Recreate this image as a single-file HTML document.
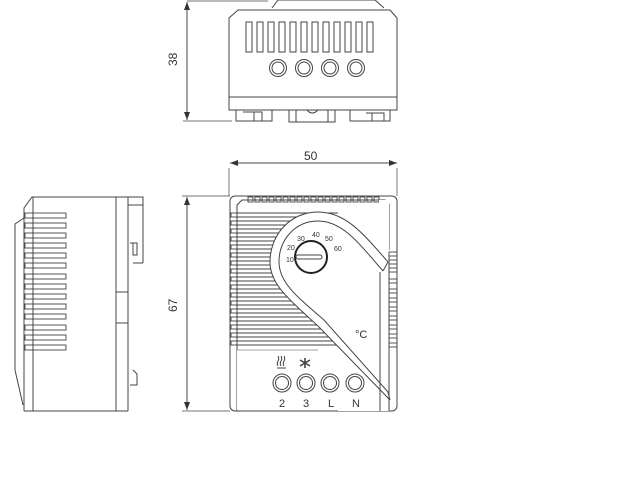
<!DOCTYPE html>
<html><head><style>
html,body{margin:0;padding:0;background:#fff;}
svg{display:block;}
text{font-family:"Liberation Sans",sans-serif;fill:#333;}
</style></head><body>
<svg width="640" height="480" viewBox="0 0 640 480" xmlns="http://www.w3.org/2000/svg">
<defs>
<marker id="a" markerWidth="8" markerHeight="6" refX="8" refY="3" orient="auto" markerUnits="userSpaceOnUse"><path d="M0,0 L8,3 L0,6 Z" fill="#333"/></marker>
</defs>
<g stroke="#444" stroke-width="1" fill="none">
<!-- TOP VIEW dimension -->
<line x1="187" y1="1" x2="268" y2="1" stroke-width="0.7"/>
<line x1="183" y1="121" x2="232" y2="121" stroke-width="0.7"/>
<line x1="187" y1="60" x2="187" y2="2" marker-end="url(#a)"/>
<line x1="187" y1="60" x2="187" y2="120" marker-end="url(#a)"/>
<!-- top body -->
<path d="M272,8 L278,0 L375,0 L384,8"/>
<path d="M229,110 L229,18 L238,10 L390,10 L397,18 L397,110 Z"/>
<line x1="229" y1="97" x2="397" y2="97"/>
<g>
<rect x="246" y="22" width="6" height="30"/><rect x="257" y="22" width="6" height="30"/><rect x="268" y="22" width="6" height="30"/><rect x="279" y="22" width="6" height="30"/><rect x="290" y="22" width="6" height="30"/><rect x="301" y="22" width="6" height="30"/><rect x="312" y="22" width="6" height="30"/><rect x="323" y="22" width="6" height="30"/><rect x="334" y="22" width="6" height="30"/><rect x="345" y="22" width="6" height="30"/><rect x="356" y="22" width="6" height="30"/><rect x="367" y="22" width="6" height="30"/>
</g>
<g>
<circle cx="278" cy="68" r="8.5"/><circle cx="278" cy="68" r="6"/>
<circle cx="304" cy="68" r="8.5"/><circle cx="304" cy="68" r="6"/>
<circle cx="330" cy="68" r="8.5"/><circle cx="330" cy="68" r="6"/>
<circle cx="356" cy="68" r="8.5"/><circle cx="356" cy="68" r="6"/>
</g>
<path d="M236,110 L236,121 L272,121 L272,110 M243,112 L262,112 L262,121 M254,112 L254,121"/>
<path d="M289,110 L289,122 L335,122 L335,110 M296,110 L296,122 M328,110 L328,122 M307,110 Q312,116 318,110"/>
<path d="M350,110 L350,121 L390,121 L390,110 M366,113 L384,113 L384,121 M372,113 L372,121"/>
<text x="0" y="0" font-size="12" stroke="none" transform="translate(177,66) rotate(-90)">38</text>

<!-- FRONT VIEW dimensions -->
<line x1="229" y1="168" x2="229" y2="196" stroke-width="0.7"/>
<line x1="397" y1="168" x2="397" y2="196" stroke-width="0.7"/>
<line x1="313" y1="163" x2="230" y2="163" marker-end="url(#a)"/>
<line x1="313" y1="163" x2="397" y2="163" marker-end="url(#a)"/>
<line x1="182" y1="196" x2="230" y2="196" stroke-width="0.7"/>
<line x1="182" y1="411" x2="230" y2="411" stroke-width="0.7"/>
<line x1="187" y1="300" x2="187" y2="197" marker-end="url(#a)"/>
<line x1="187" y1="300" x2="187" y2="410" marker-end="url(#a)"/>
<text x="304" y="160" font-size="12" stroke="none">50</text>
<text x="0" y="0" font-size="12" stroke="none" transform="translate(177,312) rotate(-90)">67</text>

<!-- front body -->
<rect x="230" y="196" width="167" height="215" rx="5"/>
<path d="M237,411 L237,205 L242,200 L385,200 L389,204 L389,250"/>
<line x1="380" y1="272" x2="380" y2="411"/>
<g stroke-width="0.9">
<rect x="248" y="197" width="5" height="5"/><rect x="255" y="197" width="5" height="5"/><rect x="262" y="197" width="5" height="5"/><rect x="269" y="197" width="5" height="5"/><rect x="276" y="197" width="5" height="5"/><rect x="283" y="197" width="5" height="5"/><rect x="290" y="197" width="5" height="5"/><rect x="297" y="197" width="5" height="5"/><rect x="304" y="197" width="5" height="5"/><rect x="311" y="197" width="5" height="5"/><rect x="318" y="197" width="5" height="5"/><rect x="325" y="197" width="5" height="5"/><rect x="332" y="197" width="5" height="5"/><rect x="339" y="197" width="5" height="5"/><rect x="346" y="197" width="5" height="5"/><rect x="353" y="197" width="5" height="5"/><rect x="360" y="197" width="5" height="5"/><rect x="367" y="197" width="5" height="5"/><rect x="374" y="197" width="5" height="5"/>
</g>
<g stroke-width="0.9">
<rect x="231" y="213" width="6" height="4"/><line x1="237" y1="213" x2="370" y2="213"/><line x1="237" y1="217" x2="370" y2="217"/>
<rect x="231" y="221" width="6" height="4"/><line x1="237" y1="221" x2="370" y2="221"/><line x1="237" y1="225" x2="370" y2="225"/>
<rect x="231" y="229" width="6" height="4"/><line x1="237" y1="229" x2="370" y2="229"/><line x1="237" y1="233" x2="370" y2="233"/>
<rect x="231" y="237" width="6" height="4"/><line x1="237" y1="237" x2="370" y2="237"/><line x1="237" y1="241" x2="370" y2="241"/>
<rect x="231" y="245" width="6" height="4"/><line x1="237" y1="245" x2="370" y2="245"/><line x1="237" y1="249" x2="370" y2="249"/>
<rect x="231" y="253" width="6" height="4"/><line x1="237" y1="253" x2="370" y2="253"/><line x1="237" y1="257" x2="370" y2="257"/>
<rect x="231" y="261" width="6" height="4"/><line x1="237" y1="261" x2="370" y2="261"/><line x1="237" y1="265" x2="370" y2="265"/>
<rect x="231" y="269" width="6" height="4"/><line x1="237" y1="269" x2="370" y2="269"/><line x1="237" y1="273" x2="370" y2="273"/>
<rect x="231" y="277" width="6" height="4"/><line x1="237" y1="277" x2="370" y2="277"/><line x1="237" y1="281" x2="370" y2="281"/>
<rect x="231" y="285" width="6" height="4"/><line x1="237" y1="285" x2="370" y2="285"/><line x1="237" y1="289" x2="370" y2="289"/>
<rect x="231" y="293" width="6" height="4"/><line x1="237" y1="293" x2="370" y2="293"/><line x1="237" y1="297" x2="370" y2="297"/>
<rect x="231" y="301" width="6" height="4"/><line x1="237" y1="301" x2="370" y2="301"/><line x1="237" y1="305" x2="370" y2="305"/>
<rect x="231" y="309" width="6" height="4"/><line x1="237" y1="309" x2="370" y2="309"/><line x1="237" y1="313" x2="370" y2="313"/>
<rect x="231" y="317" width="6" height="4"/><line x1="237" y1="317" x2="370" y2="317"/><line x1="237" y1="321" x2="370" y2="321"/>
<rect x="231" y="325" width="6" height="4"/><line x1="237" y1="325" x2="370" y2="325"/><line x1="237" y1="329" x2="370" y2="329"/>
<rect x="231" y="333" width="6" height="4"/><line x1="237" y1="333" x2="370" y2="333"/><line x1="237" y1="337" x2="370" y2="337"/>
<rect x="231" y="341" width="6" height="4"/><line x1="237" y1="341" x2="370" y2="341"/><line x1="237" y1="345" x2="370" y2="345"/>
</g>
<!-- white mask right of curve -->
<path d="M388,262 C362,232 345,212 318,212 C290,212 270,235 270,262 C270,285 290,300 318,326 L391,400 L379,400 L379,260 Z" fill="#fff" stroke="none"/>
<rect x="379" y="200" width="10" height="211" fill="#fff" stroke="none"/>
<rect x="338" y="205" width="42" height="206" fill="#fff" stroke="none"/>
<path d="M237,350 L379,350 L379,410 L237,410 Z" fill="#fff" stroke="none"/>
<line x1="237" y1="350" x2="318" y2="350" stroke-width="0.6"/>
<!-- teardrop band -->
<path d="M388,262 C362,232 345,212 318,212 C290,212 270,235 270,262 C270,285 290,300 318,326 L390,400"/>
<path d="M383,271 C358,242 342,221 318,221 C295,221 279,240 279,262 C279,282 296,296 324,320 L388,392"/>
<line x1="388" y1="262" x2="383" y2="271"/>
<path d="M390,400 L388,392"/>
<line x1="380" y1="272" x2="380" y2="411" />
<line x1="389" y1="255" x2="389" y2="411"/>
<!-- right slats -->
<g stroke-width="0.9">
<rect x="389" y="252" width="8" height="4"/><rect x="389" y="260" width="8" height="4"/><rect x="389" y="268" width="8" height="4"/><rect x="389" y="279" width="8" height="4"/><rect x="389" y="289" width="8" height="4"/><rect x="389" y="298" width="8" height="4"/><rect x="389" y="307" width="8" height="4"/><rect x="389" y="316" width="8" height="4"/><rect x="389" y="325" width="8" height="4"/><rect x="389" y="334" width="8" height="4"/><rect x="389" y="343" width="8" height="4"/>
</g>
<!-- dial -->
<circle cx="311" cy="257" r="16" stroke-width="2" stroke="#222"/>
<rect x="296" y="255" width="26" height="4" rx="2"/>
<!-- terminals -->
<circle cx="282" cy="383" r="9"/><circle cx="282" cy="383" r="6.5"/>
<circle cx="306" cy="383" r="9"/><circle cx="306" cy="383" r="6.5"/>
<circle cx="330" cy="383" r="9"/><circle cx="330" cy="383" r="6.5"/>
<circle cx="355" cy="383" r="9"/><circle cx="355" cy="383" r="6.5"/>
<path d="M278,356 q1.5,3 0,5 q-1.5,3 0,5 M281,356 q1.5,3 0,5 q-1.5,3 0,5 M284,356 q1.5,3 0,5 q-1.5,3 0,5 M277,368 L286,368"/>
<path d="M305,358 L305,368 M300,360 L310,366 M300,366 L310,360" stroke-width="1.6"/>

<!-- SIDE VIEW -->
<path d="M24,411 L24,208 L32,197 L143,197 L143,263"/>
<path d="M24,218 L15,224 L15,370 L23,405"/>
<line x1="33" y1="197" x2="33" y2="411"/>
<line x1="24" y1="411" x2="128" y2="411"/>
<line x1="116" y1="197" x2="116" y2="411"/>
<line x1="128" y1="197" x2="128" y2="411"/>
<path d="M128,205 L143,205 M133,263 L143,263 M130,243 L137,243 L137,255 L133,255 L133,243"/>
<path d="M116,292 L128,292 M116,323 L128,323"/>
<path d="M130,385 L137,385 L137,374 L133,370"/>
<g stroke-width="0.9">
<rect x="25" y="213" width="8" height="5"/><rect x="33" y="213" width="33" height="5"/>
<rect x="25" y="223" width="8" height="5"/><rect x="33" y="223" width="33" height="5"/>
<rect x="25" y="233" width="8" height="5"/><rect x="33" y="233" width="33" height="5"/>
<rect x="25" y="243" width="8" height="5"/><rect x="33" y="243" width="33" height="5"/>
<rect x="25" y="253" width="8" height="5"/><rect x="33" y="253" width="33" height="5"/>
<rect x="25" y="263" width="8" height="5"/><rect x="33" y="263" width="33" height="5"/>
<rect x="25" y="274" width="8" height="5"/><rect x="33" y="274" width="33" height="5"/>
<rect x="25" y="284" width="8" height="5"/><rect x="33" y="284" width="33" height="5"/>
<rect x="25" y="294" width="8" height="5"/><rect x="33" y="294" width="33" height="5"/>
<rect x="25" y="304" width="8" height="5"/><rect x="33" y="304" width="33" height="5"/>
<rect x="25" y="314" width="8" height="5"/><rect x="33" y="314" width="33" height="5"/>
<rect x="25" y="325" width="8" height="5"/><rect x="33" y="325" width="33" height="5"/>
<rect x="25" y="335" width="8" height="5"/><rect x="33" y="335" width="33" height="5"/>
<rect x="25" y="345" width="8" height="5"/><rect x="33" y="345" width="33" height="5"/>
</g>
</g>
<g stroke="none" font-size="7">
<text x="286" y="262">10</text>
<text x="287" y="250">20</text>
<text x="297" y="241">30</text>
<text x="312" y="237">40</text>
<text x="325" y="241">50</text>
<text x="334" y="251">60</text>
</g>
<text x="355" y="338" font-size="11" stroke="none">°C</text>
<g font-size="11" stroke="none" text-anchor="middle">
<text x="282" y="407">2</text><text x="306" y="407">3</text><text x="331" y="407">L</text><text x="356" y="407">N</text>
</g>
</svg>
</body></html>
